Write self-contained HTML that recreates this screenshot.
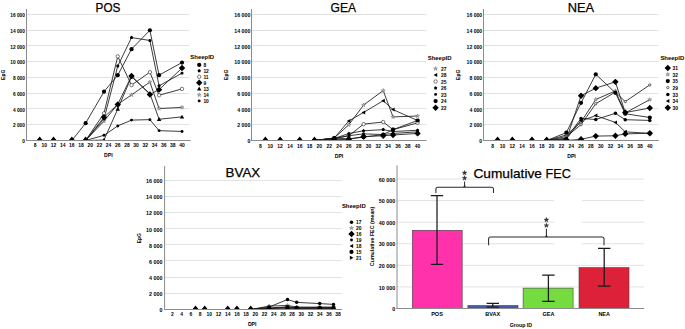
<!DOCTYPE html>
<html><head><meta charset="utf-8"><title>FEC charts</title>
<style>
html,body{margin:0;padding:0;background:#fff;}
body{width:685px;height:329px;overflow:hidden;}
svg{display:block;font-family:"Liberation Sans",sans-serif;}
</style></head><body>
<svg width="685" height="329" viewBox="0 0 685 329">
<rect width="685" height="329" fill="#fff"/>
<line x1="26.5" y1="124.5" x2="189.4" y2="124.5" stroke="#e2e2e2" stroke-width="1"/>
<line x1="26.5" y1="108.5" x2="189.4" y2="108.5" stroke="#e2e2e2" stroke-width="1"/>
<line x1="26.5" y1="93.5" x2="189.4" y2="93.5" stroke="#e2e2e2" stroke-width="1"/>
<line x1="26.5" y1="77.5" x2="189.4" y2="77.5" stroke="#e2e2e2" stroke-width="1"/>
<line x1="26.5" y1="61.5" x2="189.4" y2="61.5" stroke="#e2e2e2" stroke-width="1"/>
<line x1="26.5" y1="45.5" x2="189.4" y2="45.5" stroke="#e2e2e2" stroke-width="1"/>
<line x1="26.5" y1="30.5" x2="189.4" y2="30.5" stroke="#e2e2e2" stroke-width="1"/>
<line x1="26.5" y1="14.5" x2="189.4" y2="14.5" stroke="#e2e2e2" stroke-width="1"/>
<text x="25" y="143.1" font-size="6" text-anchor="end" font-weight="bold" textLength="2.69" lengthAdjust="spacingAndGlyphs">0</text>
<text x="25" y="127.35" font-size="6" text-anchor="end" font-weight="bold" textLength="12.11" lengthAdjust="spacingAndGlyphs">2 000</text>
<text x="25" y="111.6" font-size="6" text-anchor="end" font-weight="bold" textLength="12.11" lengthAdjust="spacingAndGlyphs">4 000</text>
<text x="25" y="95.85" font-size="6" text-anchor="end" font-weight="bold" textLength="12.11" lengthAdjust="spacingAndGlyphs">6 000</text>
<text x="25" y="80.1" font-size="6" text-anchor="end" font-weight="bold" textLength="12.11" lengthAdjust="spacingAndGlyphs">8 000</text>
<text x="25" y="64.35" font-size="6" text-anchor="end" font-weight="bold" textLength="14.8" lengthAdjust="spacingAndGlyphs">10 000</text>
<text x="25" y="48.6" font-size="6" text-anchor="end" font-weight="bold" textLength="14.8" lengthAdjust="spacingAndGlyphs">12 000</text>
<text x="25" y="32.85" font-size="6" text-anchor="end" font-weight="bold" textLength="14.8" lengthAdjust="spacingAndGlyphs">14 000</text>
<text x="25" y="17.1" font-size="6" text-anchor="end" font-weight="bold" textLength="14.8" lengthAdjust="spacingAndGlyphs">16 000</text>
<clipPath id="posc"><rect x="26.5" y="4" width="168.9" height="136.9"/></clipPath>
<g clip-path="url(#posc)">
<polyline points="39.73,140.5 53.5,140.5 71.86,140.5 85.63,140.5 103.99,121.13 117.76,104.28 131.53,94.9 149.89,82.07 159.07,108.53 182.02,107.42" fill="none" stroke="#1a1a1a" stroke-width="0.85"/>
<polyline points="39.73,140.5 53.5,140.5 71.86,140.5 85.63,140.5 103.99,135.3 117.76,125.93 131.53,120.1 149.89,119.63 159.07,130.66 182.02,131.44" fill="none" stroke="#1a1a1a" stroke-width="0.85"/>
<polyline points="39.73,140.5 53.5,140.5 71.86,140.5 85.63,140.5 103.99,140.03 117.76,109 131.53,76.71 149.89,93.64 159.07,119.24 182.02,116.88" fill="none" stroke="#1a1a1a" stroke-width="0.85"/>
<polyline points="39.73,140.5 53.5,140.5 71.86,140.5 85.63,140.5 103.99,113.33 117.76,56.39 131.53,85.14 149.89,72.14 159.07,95.22 182.02,88.92" fill="none" stroke="#1a1a1a" stroke-width="0.85"/>
<polyline points="39.73,140.5 53.5,140.5 71.86,140.5 85.63,140.5 103.99,118.92 117.76,66.08 131.53,37.57 149.89,40.49 159.07,85.77 182.02,73.17" fill="none" stroke="#1a1a1a" stroke-width="0.85"/>
<polyline points="39.73,140.5 53.5,140.5 71.86,140.5 85.63,123.17 103.99,91.67 117.76,75.14 131.53,49.15 149.89,30.25 159.07,75.14 182.02,62.54" fill="none" stroke="#1a1a1a" stroke-width="0.85"/>
<polyline points="39.73,140.5 53.5,140.5 71.86,140.5 85.63,140.5 103.99,117.27 117.76,104.43 131.53,75.93 149.89,94.43 159.07,89.63 182.02,68.05" fill="none" stroke="#1a1a1a" stroke-width="0.85"/>
<polygon points="39.73,138.4 39.23,139.81 37.73,139.85 38.92,140.76 38.5,142.2 39.73,141.35 40.96,142.2 40.54,140.76 41.73,139.85 40.23,139.81" fill="#bbbbbb" stroke="#555" stroke-width="0.4"/>
<polygon points="53.5,138.4 53,139.81 51.5,139.85 52.69,140.76 52.27,142.2 53.5,141.35 54.73,142.2 54.31,140.76 55.5,139.85 54,139.81" fill="#bbbbbb" stroke="#555" stroke-width="0.4"/>
<polygon points="71.86,138.4 71.36,139.81 69.86,139.85 71.05,140.76 70.63,142.2 71.86,141.35 73.09,142.2 72.67,140.76 73.86,139.85 72.36,139.81" fill="#bbbbbb" stroke="#555" stroke-width="0.4"/>
<polygon points="85.63,138.4 85.13,139.81 83.63,139.85 84.82,140.76 84.4,142.2 85.63,141.35 86.86,142.2 86.44,140.76 87.63,139.85 86.13,139.81" fill="#bbbbbb" stroke="#555" stroke-width="0.4"/>
<polygon points="103.99,119.03 103.49,120.44 101.99,120.48 103.18,121.39 102.76,122.83 103.99,121.98 105.22,122.83 104.8,121.39 105.99,120.48 104.49,120.44" fill="#bbbbbb" stroke="#555" stroke-width="0.4"/>
<polygon points="117.76,102.18 117.26,103.59 115.76,103.63 116.95,104.54 116.53,105.97 117.76,105.12 118.99,105.97 118.57,104.54 119.76,103.63 118.26,103.59" fill="#bbbbbb" stroke="#555" stroke-width="0.4"/>
<polygon points="131.53,92.8 131.03,94.22 129.53,94.25 130.72,95.17 130.3,96.6 131.53,95.75 132.76,96.6 132.34,95.17 133.53,94.25 132.03,94.22" fill="#bbbbbb" stroke="#555" stroke-width="0.4"/>
<polygon points="149.89,79.97 149.39,81.38 147.89,81.42 149.08,82.33 148.66,83.77 149.89,82.92 151.12,83.77 150.7,82.33 151.89,81.42 150.39,81.38" fill="#bbbbbb" stroke="#555" stroke-width="0.4"/>
<polygon points="159.07,106.43 158.57,107.84 157.07,107.88 158.26,108.79 157.84,110.23 159.07,109.38 160.3,110.23 159.88,108.79 161.07,107.88 159.57,107.84" fill="#bbbbbb" stroke="#555" stroke-width="0.4"/>
<polygon points="182.02,105.33 181.52,106.74 180.02,106.78 181.21,107.69 180.79,109.12 182.02,108.27 183.25,109.12 182.83,107.69 184.02,106.78 182.52,106.74" fill="#bbbbbb" stroke="#555" stroke-width="0.4"/>
<circle cx="39.73" cy="140.5" r="1.45" fill="#000"/>
<circle cx="53.5" cy="140.5" r="1.45" fill="#000"/>
<circle cx="71.86" cy="140.5" r="1.45" fill="#000"/>
<circle cx="85.63" cy="140.5" r="1.45" fill="#000"/>
<circle cx="103.99" cy="135.3" r="1.45" fill="#000"/>
<circle cx="117.76" cy="125.93" r="1.45" fill="#000"/>
<circle cx="131.53" cy="120.1" r="1.45" fill="#000"/>
<circle cx="149.89" cy="119.63" r="1.45" fill="#000"/>
<circle cx="159.07" cy="130.66" r="1.45" fill="#000"/>
<circle cx="182.02" cy="131.44" r="1.45" fill="#000"/>
<polygon points="39.73,138.3 41.93,142.15 37.53,142.15" fill="#000"/>
<polygon points="53.5,138.3 55.7,142.15 51.3,142.15" fill="#000"/>
<polygon points="71.86,138.3 74.06,142.15 69.66,142.15" fill="#000"/>
<polygon points="85.63,138.3 87.83,142.15 83.43,142.15" fill="#000"/>
<polygon points="103.99,137.83 106.19,141.68 101.79,141.68" fill="#000"/>
<polygon points="117.76,106.8 119.96,110.65 115.56,110.65" fill="#000"/>
<polygon points="131.53,74.51 133.73,78.36 129.33,78.36" fill="#000"/>
<polygon points="149.89,91.44 152.09,95.29 147.69,95.29" fill="#000"/>
<polygon points="159.07,117.04 161.27,120.89 156.87,120.89" fill="#000"/>
<polygon points="182.02,114.67 184.22,118.53 179.82,118.53" fill="#000"/>
<circle cx="39.73" cy="140.5" r="1.7" fill="#fff" stroke="#222" stroke-width="0.6"/>
<circle cx="53.5" cy="140.5" r="1.7" fill="#fff" stroke="#222" stroke-width="0.6"/>
<circle cx="71.86" cy="140.5" r="1.7" fill="#fff" stroke="#222" stroke-width="0.6"/>
<circle cx="85.63" cy="140.5" r="1.7" fill="#fff" stroke="#222" stroke-width="0.6"/>
<circle cx="103.99" cy="113.33" r="1.7" fill="#fff" stroke="#222" stroke-width="0.6"/>
<circle cx="117.76" cy="56.39" r="1.7" fill="#fff" stroke="#222" stroke-width="0.6"/>
<circle cx="131.53" cy="85.14" r="1.7" fill="#fff" stroke="#222" stroke-width="0.6"/>
<circle cx="149.89" cy="72.14" r="1.7" fill="#fff" stroke="#222" stroke-width="0.6"/>
<circle cx="159.07" cy="95.22" r="1.7" fill="#fff" stroke="#222" stroke-width="0.6"/>
<circle cx="182.02" cy="88.92" r="1.7" fill="#fff" stroke="#222" stroke-width="0.6"/>
<polygon points="39.73,138.75 41.39,139.96 40.76,141.92 38.7,141.92 38.07,139.96" fill="#000"/>
<polygon points="53.5,138.75 55.16,139.96 54.53,141.92 52.47,141.92 51.84,139.96" fill="#000"/>
<polygon points="71.86,138.75 73.52,139.96 72.89,141.92 70.83,141.92 70.2,139.96" fill="#000"/>
<polygon points="85.63,138.75 87.29,139.96 86.66,141.92 84.6,141.92 83.97,139.96" fill="#000"/>
<polygon points="103.99,117.17 105.65,118.38 105.02,120.34 102.96,120.34 102.33,118.38" fill="#000"/>
<polygon points="117.76,64.33 119.42,65.54 118.79,67.5 116.73,67.5 116.1,65.54" fill="#000"/>
<polygon points="131.53,35.82 133.19,37.03 132.56,38.99 130.5,38.99 129.87,37.03" fill="#000"/>
<polygon points="149.89,38.74 151.55,39.95 150.92,41.9 148.86,41.9 148.23,39.95" fill="#000"/>
<polygon points="159.07,84.02 160.73,85.23 160.1,87.18 158.04,87.18 157.41,85.23" fill="#000"/>
<polygon points="182.02,71.42 183.68,72.63 183.05,74.58 180.99,74.58 180.36,72.63" fill="#000"/>
<circle cx="39.73" cy="140.5" r="2.1" fill="#000"/>
<circle cx="53.5" cy="140.5" r="2.1" fill="#000"/>
<circle cx="71.86" cy="140.5" r="2.1" fill="#000"/>
<circle cx="85.63" cy="123.17" r="2.1" fill="#000"/>
<circle cx="103.99" cy="91.67" r="2.1" fill="#000"/>
<circle cx="117.76" cy="75.14" r="2.1" fill="#000"/>
<circle cx="131.53" cy="49.15" r="2.1" fill="#000"/>
<circle cx="149.89" cy="30.25" r="2.1" fill="#000"/>
<circle cx="159.07" cy="75.14" r="2.1" fill="#000"/>
<circle cx="182.02" cy="62.54" r="2.1" fill="#000"/>
<polygon points="39.73,137.3 42.93,140.5 39.73,143.7 36.53,140.5" fill="#000"/>
<polygon points="53.5,137.3 56.7,140.5 53.5,143.7 50.3,140.5" fill="#000"/>
<polygon points="71.86,137.3 75.06,140.5 71.86,143.7 68.66,140.5" fill="#000"/>
<polygon points="85.63,137.3 88.83,140.5 85.63,143.7 82.43,140.5" fill="#000"/>
<polygon points="103.99,114.07 107.19,117.27 103.99,120.47 100.79,117.27" fill="#000"/>
<polygon points="117.76,101.23 120.96,104.43 117.76,107.63 114.56,104.43" fill="#000"/>
<polygon points="131.53,72.73 134.73,75.93 131.53,79.13 128.33,75.93" fill="#000"/>
<polygon points="149.89,91.23 153.09,94.43 149.89,97.63 146.69,94.43" fill="#000"/>
<polygon points="159.07,86.43 162.27,89.63 159.07,92.83 155.87,89.63" fill="#000"/>
<polygon points="182.02,64.85 185.22,68.05 182.02,71.25 178.82,68.05" fill="#000"/>
<polygon points="36.43,140.9 39.73,136.6 43.03,140.9" fill="#000"/>
<polygon points="50.2,140.9 53.5,136.6 56.8,140.9" fill="#000"/>
<polygon points="68.56,140.9 71.86,136.6 75.16,140.9" fill="#000"/>
<polygon points="82.33,140.9 85.63,136.6 88.93,140.9" fill="#000"/>
</g>
<line x1="26.5" y1="9" x2="26.5" y2="141" stroke="#8c8c8c" stroke-width="1"/>
<line x1="26" y1="140.5" x2="190.8" y2="140.5" stroke="#8c8c8c" stroke-width="1"/>
<text x="35.14" y="147.2" font-size="5.8" text-anchor="middle" font-weight="bold" textLength="2.77" lengthAdjust="spacingAndGlyphs">8</text>
<text x="44.32" y="147.2" font-size="5.8" text-anchor="middle" font-weight="bold" textLength="5.55" lengthAdjust="spacingAndGlyphs">10</text>
<text x="53.5" y="147.2" font-size="5.8" text-anchor="middle" font-weight="bold" textLength="5.55" lengthAdjust="spacingAndGlyphs">12</text>
<text x="62.68" y="147.2" font-size="5.8" text-anchor="middle" font-weight="bold" textLength="5.55" lengthAdjust="spacingAndGlyphs">14</text>
<text x="71.86" y="147.2" font-size="5.8" text-anchor="middle" font-weight="bold" textLength="5.55" lengthAdjust="spacingAndGlyphs">16</text>
<text x="81.04" y="147.2" font-size="5.8" text-anchor="middle" font-weight="bold" textLength="5.55" lengthAdjust="spacingAndGlyphs">18</text>
<text x="90.22" y="147.2" font-size="5.8" text-anchor="middle" font-weight="bold" textLength="5.55" lengthAdjust="spacingAndGlyphs">20</text>
<text x="99.4" y="147.2" font-size="5.8" text-anchor="middle" font-weight="bold" textLength="5.55" lengthAdjust="spacingAndGlyphs">22</text>
<text x="108.58" y="147.2" font-size="5.8" text-anchor="middle" font-weight="bold" textLength="5.55" lengthAdjust="spacingAndGlyphs">24</text>
<text x="117.76" y="147.2" font-size="5.8" text-anchor="middle" font-weight="bold" textLength="5.55" lengthAdjust="spacingAndGlyphs">26</text>
<text x="126.94" y="147.2" font-size="5.8" text-anchor="middle" font-weight="bold" textLength="5.55" lengthAdjust="spacingAndGlyphs">28</text>
<text x="136.12" y="147.2" font-size="5.8" text-anchor="middle" font-weight="bold" textLength="5.55" lengthAdjust="spacingAndGlyphs">30</text>
<text x="145.3" y="147.2" font-size="5.8" text-anchor="middle" font-weight="bold" textLength="5.55" lengthAdjust="spacingAndGlyphs">32</text>
<text x="154.48" y="147.2" font-size="5.8" text-anchor="middle" font-weight="bold" textLength="5.55" lengthAdjust="spacingAndGlyphs">34</text>
<text x="163.66" y="147.2" font-size="5.8" text-anchor="middle" font-weight="bold" textLength="5.55" lengthAdjust="spacingAndGlyphs">36</text>
<text x="172.84" y="147.2" font-size="5.8" text-anchor="middle" font-weight="bold" textLength="5.55" lengthAdjust="spacingAndGlyphs">38</text>
<text x="182.02" y="147.2" font-size="5.8" text-anchor="middle" font-weight="bold" textLength="5.55" lengthAdjust="spacingAndGlyphs">40</text>
<text x="95.6" y="12.3" font-size="13.2" textLength="24.8" lengthAdjust="spacingAndGlyphs" fill="#000" stroke="#000" stroke-width="0.25">POS</text>
<text x="5.2" y="74.8" font-size="5.4" text-anchor="middle" font-weight="bold" textLength="10.2" lengthAdjust="spacingAndGlyphs" transform="rotate(-90 5.2 74.8)">EpG</text>
<text x="108.4" y="156.6" font-size="5.4" text-anchor="middle" font-weight="bold" textLength="8.6" lengthAdjust="spacingAndGlyphs">DPI</text>
<text x="190.3" y="59.3" font-size="6.1" font-weight="bold" textLength="23.8" lengthAdjust="spacingAndGlyphs">SheepID</text>
<circle cx="199.2" cy="64.9" r="2.1" fill="#000"/>
<text x="203.4" y="67" font-size="6" font-weight="bold" textLength="2.74" lengthAdjust="spacingAndGlyphs">8</text>
<polygon points="199.2,69.05 200.86,70.26 200.23,72.22 198.17,72.22 197.54,70.26" fill="#000"/>
<text x="203.4" y="72.9" font-size="6" font-weight="bold" textLength="5.47" lengthAdjust="spacingAndGlyphs">12</text>
<circle cx="199.2" cy="76.8" r="1.7" fill="#fff" stroke="#222" stroke-width="0.6"/>
<text x="203.4" y="78.9" font-size="6" font-weight="bold" textLength="5.2" lengthAdjust="spacingAndGlyphs">11</text>
<polygon points="199.2,79.5 202.4,82.7 199.2,85.9 196,82.7" fill="#000"/>
<text x="203.4" y="84.8" font-size="6" font-weight="bold" textLength="2.74" lengthAdjust="spacingAndGlyphs">9</text>
<polygon points="199.2,86.6 201.4,90.45 197,90.45" fill="#000"/>
<text x="203.4" y="90.9" font-size="6" font-weight="bold" textLength="5.47" lengthAdjust="spacingAndGlyphs">13</text>
<polygon points="199.2,92.8 198.7,94.21 197.2,94.25 198.39,95.16 197.97,96.6 199.2,95.75 200.43,96.6 200.01,95.16 201.2,94.25 199.7,94.21" fill="#bbbbbb" stroke="#555" stroke-width="0.4"/>
<text x="203.4" y="97" font-size="6" font-weight="bold" textLength="5.47" lengthAdjust="spacingAndGlyphs">14</text>
<circle cx="199.2" cy="100.9" r="1.45" fill="#000"/>
<text x="203.4" y="103" font-size="6" font-weight="bold" textLength="5.47" lengthAdjust="spacingAndGlyphs">10</text>
<line x1="251.5" y1="124.5" x2="426.3" y2="124.5" stroke="#e2e2e2" stroke-width="1"/>
<line x1="251.5" y1="108.5" x2="426.3" y2="108.5" stroke="#e2e2e2" stroke-width="1"/>
<line x1="251.5" y1="93.5" x2="426.3" y2="93.5" stroke="#e2e2e2" stroke-width="1"/>
<line x1="251.5" y1="77.5" x2="426.3" y2="77.5" stroke="#e2e2e2" stroke-width="1"/>
<line x1="251.5" y1="61.5" x2="426.3" y2="61.5" stroke="#e2e2e2" stroke-width="1"/>
<line x1="251.5" y1="45.5" x2="426.3" y2="45.5" stroke="#e2e2e2" stroke-width="1"/>
<line x1="251.5" y1="30.5" x2="426.3" y2="30.5" stroke="#e2e2e2" stroke-width="1"/>
<line x1="251.5" y1="14.5" x2="426.3" y2="14.5" stroke="#e2e2e2" stroke-width="1"/>
<text x="250.3" y="143.1" font-size="6" text-anchor="end" font-weight="bold" textLength="2.91" lengthAdjust="spacingAndGlyphs">0</text>
<text x="250.3" y="127.35" font-size="6" text-anchor="end" font-weight="bold" textLength="13.09" lengthAdjust="spacingAndGlyphs">2 000</text>
<text x="250.3" y="111.6" font-size="6" text-anchor="end" font-weight="bold" textLength="13.09" lengthAdjust="spacingAndGlyphs">4 000</text>
<text x="250.3" y="95.85" font-size="6" text-anchor="end" font-weight="bold" textLength="13.09" lengthAdjust="spacingAndGlyphs">6 000</text>
<text x="250.3" y="80.1" font-size="6" text-anchor="end" font-weight="bold" textLength="13.09" lengthAdjust="spacingAndGlyphs">8 000</text>
<text x="250.3" y="64.35" font-size="6" text-anchor="end" font-weight="bold" textLength="16" lengthAdjust="spacingAndGlyphs">10 000</text>
<text x="250.3" y="48.6" font-size="6" text-anchor="end" font-weight="bold" textLength="16" lengthAdjust="spacingAndGlyphs">12 000</text>
<text x="250.3" y="32.85" font-size="6" text-anchor="end" font-weight="bold" textLength="16" lengthAdjust="spacingAndGlyphs">14 000</text>
<text x="250.3" y="17.1" font-size="6" text-anchor="end" font-weight="bold" textLength="16" lengthAdjust="spacingAndGlyphs">16 000</text>
<clipPath id="geac"><rect x="251.5" y="4" width="180.8" height="136.9"/></clipPath>
<g clip-path="url(#geac)">
<polyline points="265.37,140.5 280.1,140.5 299.74,140.5 314.47,140.5 334.11,138.14 348.84,124.75 363.57,105.06 383.21,90.57 393.03,116.91 417.58,116.02" fill="none" stroke="#1a1a1a" stroke-width="0.85"/>
<polyline points="265.37,140.5 280.1,140.5 299.74,140.5 314.47,140.5 334.11,138.14 348.84,120.91 363.57,112.47 383.21,100.72 393.03,109.62 417.58,120.51" fill="none" stroke="#1a1a1a" stroke-width="0.85"/>
<polyline points="265.37,140.5 280.1,140.5 299.74,140.5 314.47,140.5 334.11,138.14 348.84,135.78 363.57,124.12 383.21,122.02 393.03,129.61 417.58,122.92" fill="none" stroke="#1a1a1a" stroke-width="0.85"/>
<polyline points="265.37,140.5 280.1,140.5 299.74,140.5 314.47,140.5 334.11,138.53 348.84,133.51 363.57,130.81 383.21,129.61 393.03,131.51 417.58,130.26" fill="none" stroke="#1a1a1a" stroke-width="0.85"/>
<polyline points="265.37,140.5 280.1,140.5 299.74,140.5 314.47,140.5 334.11,138.93 348.84,135.7 363.57,133.9 383.21,134.51 393.03,133.41 417.58,131.84" fill="none" stroke="#1a1a1a" stroke-width="0.85"/>
<polyline points="265.37,140.5 280.1,140.5 299.74,140.5 314.47,140.5 334.11,139.71 348.84,139.32 363.57,136.56 383.21,135.78 393.03,134.99 417.58,133.41" fill="none" stroke="#1a1a1a" stroke-width="0.85"/>
<polyline points="265.37,140.5 280.1,140.5 299.74,140.5 314.47,140.5 334.11,138.1 348.84,138.8 363.57,137.2 383.21,134.51 393.03,129.61 417.58,120.51" fill="none" stroke="#1a1a1a" stroke-width="0.85"/>
<polygon points="265.37,138.4 264.87,139.81 263.37,139.85 264.56,140.76 264.14,142.2 265.37,141.35 266.6,142.2 266.18,140.76 267.37,139.85 265.87,139.81" fill="#bbbbbb" stroke="#555" stroke-width="0.4"/>
<polygon points="280.1,138.4 279.6,139.81 278.1,139.85 279.29,140.76 278.87,142.2 280.1,141.35 281.33,142.2 280.91,140.76 282.1,139.85 280.6,139.81" fill="#bbbbbb" stroke="#555" stroke-width="0.4"/>
<polygon points="299.74,138.4 299.24,139.81 297.74,139.85 298.93,140.76 298.51,142.2 299.74,141.35 300.97,142.2 300.55,140.76 301.74,139.85 300.24,139.81" fill="#bbbbbb" stroke="#555" stroke-width="0.4"/>
<polygon points="314.47,138.4 313.97,139.81 312.47,139.85 313.66,140.76 313.24,142.2 314.47,141.35 315.7,142.2 315.28,140.76 316.47,139.85 314.97,139.81" fill="#bbbbbb" stroke="#555" stroke-width="0.4"/>
<polygon points="334.11,136.04 333.61,137.45 332.11,137.49 333.3,138.4 332.88,139.84 334.11,138.99 335.34,139.84 334.92,138.4 336.11,137.49 334.61,137.45" fill="#bbbbbb" stroke="#555" stroke-width="0.4"/>
<polygon points="348.84,122.65 348.34,124.06 346.84,124.1 348.03,125.01 347.61,126.45 348.84,125.6 350.07,126.45 349.65,125.01 350.84,124.1 349.34,124.06" fill="#bbbbbb" stroke="#555" stroke-width="0.4"/>
<polygon points="363.57,102.96 363.07,104.37 361.57,104.41 362.76,105.33 362.34,106.76 363.57,105.91 364.8,106.76 364.38,105.33 365.57,104.41 364.07,104.37" fill="#bbbbbb" stroke="#555" stroke-width="0.4"/>
<polygon points="383.21,88.47 382.71,89.88 381.21,89.92 382.4,90.84 381.98,92.27 383.21,91.42 384.44,92.27 384.02,90.84 385.21,89.92 383.71,89.88" fill="#bbbbbb" stroke="#555" stroke-width="0.4"/>
<polygon points="393.03,114.81 392.53,116.23 391.03,116.27 392.22,117.18 391.8,118.61 393.03,117.76 394.26,118.61 393.84,117.18 395.03,116.27 393.53,116.23" fill="#bbbbbb" stroke="#555" stroke-width="0.4"/>
<polygon points="417.58,113.92 417.08,115.33 415.58,115.37 416.77,116.28 416.35,117.72 417.58,116.87 418.81,117.72 418.39,116.28 419.58,115.37 418.08,115.33" fill="#bbbbbb" stroke="#555" stroke-width="0.4"/>
<polygon points="263.37,140.5 266.97,138.5 266.97,142.5" fill="#000"/>
<polygon points="278.1,140.5 281.7,138.5 281.7,142.5" fill="#000"/>
<polygon points="297.74,140.5 301.34,138.5 301.34,142.5" fill="#000"/>
<polygon points="312.47,140.5 316.07,138.5 316.07,142.5" fill="#000"/>
<polygon points="332.11,138.14 335.71,136.14 335.71,140.14" fill="#000"/>
<polygon points="346.84,120.91 350.44,118.91 350.44,122.91" fill="#000"/>
<polygon points="361.57,112.47 365.17,110.47 365.17,114.47" fill="#000"/>
<polygon points="381.21,100.72 384.81,98.72 384.81,102.72" fill="#000"/>
<polygon points="391.03,109.62 394.63,107.62 394.63,111.62" fill="#000"/>
<polygon points="415.58,120.51 419.18,118.51 419.18,122.51" fill="#000"/>
<circle cx="265.37" cy="140.5" r="1.7" fill="#fff" stroke="#222" stroke-width="0.6"/>
<circle cx="280.1" cy="140.5" r="1.7" fill="#fff" stroke="#222" stroke-width="0.6"/>
<circle cx="299.74" cy="140.5" r="1.7" fill="#fff" stroke="#222" stroke-width="0.6"/>
<circle cx="314.47" cy="140.5" r="1.7" fill="#fff" stroke="#222" stroke-width="0.6"/>
<circle cx="334.11" cy="138.14" r="1.7" fill="#fff" stroke="#222" stroke-width="0.6"/>
<circle cx="348.84" cy="135.78" r="1.7" fill="#fff" stroke="#222" stroke-width="0.6"/>
<circle cx="363.57" cy="124.12" r="1.7" fill="#fff" stroke="#222" stroke-width="0.6"/>
<circle cx="383.21" cy="122.02" r="1.7" fill="#fff" stroke="#222" stroke-width="0.6"/>
<circle cx="393.03" cy="129.61" r="1.7" fill="#fff" stroke="#222" stroke-width="0.6"/>
<circle cx="417.58" cy="122.92" r="1.7" fill="#fff" stroke="#222" stroke-width="0.6"/>
<polygon points="265.37,138.75 267.03,139.96 266.4,141.92 264.34,141.92 263.71,139.96" fill="#000"/>
<polygon points="280.1,138.75 281.76,139.96 281.13,141.92 279.07,141.92 278.44,139.96" fill="#000"/>
<polygon points="299.74,138.75 301.4,139.96 300.77,141.92 298.71,141.92 298.08,139.96" fill="#000"/>
<polygon points="314.47,138.75 316.13,139.96 315.5,141.92 313.44,141.92 312.81,139.96" fill="#000"/>
<polygon points="334.11,136.78 335.77,137.99 335.14,139.95 333.08,139.95 332.45,137.99" fill="#000"/>
<polygon points="348.84,131.76 350.5,132.97 349.87,134.92 347.81,134.92 347.18,132.97" fill="#000"/>
<polygon points="363.57,129.06 365.23,130.27 364.6,132.22 362.54,132.22 361.91,130.27" fill="#000"/>
<polygon points="383.21,127.86 384.87,129.07 384.24,131.02 382.18,131.02 381.55,129.07" fill="#000"/>
<polygon points="393.03,129.76 394.69,130.97 394.06,132.92 392,132.92 391.37,130.97" fill="#000"/>
<polygon points="417.58,128.51 419.24,129.72 418.61,131.68 416.55,131.68 415.92,129.72" fill="#000"/>
<circle cx="265.37" cy="140.5" r="1.45" fill="#000"/>
<circle cx="280.1" cy="140.5" r="1.45" fill="#000"/>
<circle cx="299.74" cy="140.5" r="1.45" fill="#000"/>
<circle cx="314.47" cy="140.5" r="1.45" fill="#000"/>
<circle cx="334.11" cy="138.93" r="1.45" fill="#000"/>
<circle cx="348.84" cy="135.7" r="1.45" fill="#000"/>
<circle cx="363.57" cy="133.9" r="1.45" fill="#000"/>
<circle cx="383.21" cy="134.51" r="1.45" fill="#000"/>
<circle cx="393.03" cy="133.41" r="1.45" fill="#000"/>
<circle cx="417.58" cy="131.84" r="1.45" fill="#000"/>
<polygon points="265.37,137.3 268.57,140.5 265.37,143.7 262.17,140.5" fill="#000"/>
<polygon points="280.1,137.3 283.3,140.5 280.1,143.7 276.9,140.5" fill="#000"/>
<polygon points="299.74,137.3 302.94,140.5 299.74,143.7 296.54,140.5" fill="#000"/>
<polygon points="314.47,137.3 317.67,140.5 314.47,143.7 311.27,140.5" fill="#000"/>
<polygon points="334.11,136.51 337.31,139.71 334.11,142.91 330.91,139.71" fill="#000"/>
<polygon points="348.84,136.12 352.04,139.32 348.84,142.52 345.64,139.32" fill="#000"/>
<polygon points="363.57,133.36 366.77,136.56 363.57,139.76 360.37,136.56" fill="#000"/>
<polygon points="383.21,132.58 386.41,135.78 383.21,138.97 380.01,135.78" fill="#000"/>
<polygon points="393.03,131.79 396.23,134.99 393.03,138.19 389.83,134.99" fill="#000"/>
<polygon points="417.58,130.21 420.78,133.41 417.58,136.61 414.38,133.41" fill="#000"/>
<circle cx="265.37" cy="140.5" r="2.1" fill="#000"/>
<circle cx="280.1" cy="140.5" r="2.1" fill="#000"/>
<circle cx="299.74" cy="140.5" r="2.1" fill="#000"/>
<circle cx="314.47" cy="140.5" r="2.1" fill="#000"/>
<circle cx="334.11" cy="138.1" r="2.1" fill="#000"/>
<circle cx="348.84" cy="138.8" r="2.1" fill="#000"/>
<circle cx="363.57" cy="137.2" r="2.1" fill="#000"/>
<circle cx="383.21" cy="134.51" r="2.1" fill="#000"/>
<circle cx="393.03" cy="129.61" r="2.1" fill="#000"/>
<circle cx="417.58" cy="120.51" r="2.1" fill="#000"/>
<polygon points="262.07,140.9 265.37,136.6 268.67,140.9" fill="#000"/>
<polygon points="276.8,140.9 280.1,136.6 283.4,140.9" fill="#000"/>
<polygon points="296.44,140.9 299.74,136.6 303.04,140.9" fill="#000"/>
<polygon points="311.17,140.9 314.47,136.6 317.77,140.9" fill="#000"/>
</g>
<line x1="251.5" y1="9" x2="251.5" y2="141" stroke="#8c8c8c" stroke-width="1"/>
<line x1="251" y1="140.5" x2="426.5" y2="140.5" stroke="#8c8c8c" stroke-width="1"/>
<text x="260.46" y="147.6" font-size="5.8" text-anchor="middle" font-weight="bold" textLength="2.77" lengthAdjust="spacingAndGlyphs">8</text>
<text x="270.28" y="147.6" font-size="5.8" text-anchor="middle" font-weight="bold" textLength="5.55" lengthAdjust="spacingAndGlyphs">10</text>
<text x="280.1" y="147.6" font-size="5.8" text-anchor="middle" font-weight="bold" textLength="5.55" lengthAdjust="spacingAndGlyphs">12</text>
<text x="289.92" y="147.6" font-size="5.8" text-anchor="middle" font-weight="bold" textLength="5.55" lengthAdjust="spacingAndGlyphs">14</text>
<text x="299.74" y="147.6" font-size="5.8" text-anchor="middle" font-weight="bold" textLength="5.55" lengthAdjust="spacingAndGlyphs">16</text>
<text x="309.56" y="147.6" font-size="5.8" text-anchor="middle" font-weight="bold" textLength="5.55" lengthAdjust="spacingAndGlyphs">18</text>
<text x="319.38" y="147.6" font-size="5.8" text-anchor="middle" font-weight="bold" textLength="5.55" lengthAdjust="spacingAndGlyphs">20</text>
<text x="329.2" y="147.6" font-size="5.8" text-anchor="middle" font-weight="bold" textLength="5.55" lengthAdjust="spacingAndGlyphs">22</text>
<text x="339.02" y="147.6" font-size="5.8" text-anchor="middle" font-weight="bold" textLength="5.55" lengthAdjust="spacingAndGlyphs">24</text>
<text x="348.84" y="147.6" font-size="5.8" text-anchor="middle" font-weight="bold" textLength="5.55" lengthAdjust="spacingAndGlyphs">26</text>
<text x="358.66" y="147.6" font-size="5.8" text-anchor="middle" font-weight="bold" textLength="5.55" lengthAdjust="spacingAndGlyphs">28</text>
<text x="368.48" y="147.6" font-size="5.8" text-anchor="middle" font-weight="bold" textLength="5.55" lengthAdjust="spacingAndGlyphs">30</text>
<text x="378.3" y="147.6" font-size="5.8" text-anchor="middle" font-weight="bold" textLength="5.55" lengthAdjust="spacingAndGlyphs">32</text>
<text x="388.12" y="147.6" font-size="5.8" text-anchor="middle" font-weight="bold" textLength="5.55" lengthAdjust="spacingAndGlyphs">34</text>
<text x="397.94" y="147.6" font-size="5.8" text-anchor="middle" font-weight="bold" textLength="5.55" lengthAdjust="spacingAndGlyphs">36</text>
<text x="407.76" y="147.6" font-size="5.8" text-anchor="middle" font-weight="bold" textLength="5.55" lengthAdjust="spacingAndGlyphs">38</text>
<text x="417.58" y="147.6" font-size="5.8" text-anchor="middle" font-weight="bold" textLength="5.55" lengthAdjust="spacingAndGlyphs">40</text>
<text x="330.6" y="12.3" font-size="13.2" textLength="25.5" lengthAdjust="spacingAndGlyphs" fill="#000" stroke="#000" stroke-width="0.25">GEA</text>
<text x="228" y="74.8" font-size="5.4" text-anchor="middle" font-weight="bold" textLength="10.2" lengthAdjust="spacingAndGlyphs" transform="rotate(-90 228 74.8)">EpG</text>
<text x="339" y="157.6" font-size="5.4" text-anchor="middle" font-weight="bold" textLength="8.6" lengthAdjust="spacingAndGlyphs">DPI</text>
<text x="427.7" y="59.9" font-size="6.1" font-weight="bold" textLength="23.8" lengthAdjust="spacingAndGlyphs">SheepID</text>
<polygon points="435.6,66.6 435.1,68.01 433.6,68.05 434.79,68.96 434.37,70.4 435.6,69.55 436.83,70.4 436.41,68.96 437.6,68.05 436.1,68.01" fill="#bbbbbb" stroke="#555" stroke-width="0.4"/>
<text x="441" y="70.8" font-size="6" font-weight="bold" textLength="5.47" lengthAdjust="spacingAndGlyphs">27</text>
<polygon points="433.6,75.1 437.2,73.1 437.2,77.1" fill="#000"/>
<text x="441" y="77.2" font-size="6" font-weight="bold" textLength="5.47" lengthAdjust="spacingAndGlyphs">28</text>
<circle cx="435.6" cy="81.5" r="1.7" fill="#fff" stroke="#222" stroke-width="0.6"/>
<text x="441" y="83.6" font-size="6" font-weight="bold" textLength="5.47" lengthAdjust="spacingAndGlyphs">25</text>
<polygon points="435.6,86.25 437.26,87.46 436.63,89.42 434.57,89.42 433.94,87.46" fill="#000"/>
<text x="441" y="90.1" font-size="6" font-weight="bold" textLength="5.47" lengthAdjust="spacingAndGlyphs">26</text>
<circle cx="435.6" cy="94.4" r="1.45" fill="#000"/>
<text x="441" y="96.5" font-size="6" font-weight="bold" textLength="5.47" lengthAdjust="spacingAndGlyphs">23</text>
<circle cx="435.6" cy="101.1" r="2.1" fill="#000"/>
<text x="441" y="103.2" font-size="6" font-weight="bold" textLength="5.47" lengthAdjust="spacingAndGlyphs">24</text>
<polygon points="435.6,104.5 438.8,107.7 435.6,110.9 432.4,107.7" fill="#000"/>
<text x="441" y="109.8" font-size="6" font-weight="bold" textLength="5.47" lengthAdjust="spacingAndGlyphs">22</text>
<line x1="483.5" y1="124.5" x2="658.6" y2="124.5" stroke="#e2e2e2" stroke-width="1"/>
<line x1="483.5" y1="108.5" x2="658.6" y2="108.5" stroke="#e2e2e2" stroke-width="1"/>
<line x1="483.5" y1="93.5" x2="658.6" y2="93.5" stroke="#e2e2e2" stroke-width="1"/>
<line x1="483.5" y1="77.5" x2="658.6" y2="77.5" stroke="#e2e2e2" stroke-width="1"/>
<line x1="483.5" y1="61.5" x2="658.6" y2="61.5" stroke="#e2e2e2" stroke-width="1"/>
<line x1="483.5" y1="45.5" x2="658.6" y2="45.5" stroke="#e2e2e2" stroke-width="1"/>
<line x1="483.5" y1="30.5" x2="658.6" y2="30.5" stroke="#e2e2e2" stroke-width="1"/>
<line x1="483.5" y1="14.5" x2="658.6" y2="14.5" stroke="#e2e2e2" stroke-width="1"/>
<text x="482.2" y="143.1" font-size="6" text-anchor="end" font-weight="bold" textLength="2.84" lengthAdjust="spacingAndGlyphs">0</text>
<text x="482.2" y="127.35" font-size="6" text-anchor="end" font-weight="bold" textLength="12.76" lengthAdjust="spacingAndGlyphs">2 000</text>
<text x="482.2" y="111.6" font-size="6" text-anchor="end" font-weight="bold" textLength="12.76" lengthAdjust="spacingAndGlyphs">4 000</text>
<text x="482.2" y="95.85" font-size="6" text-anchor="end" font-weight="bold" textLength="12.76" lengthAdjust="spacingAndGlyphs">6 000</text>
<text x="482.2" y="80.1" font-size="6" text-anchor="end" font-weight="bold" textLength="12.76" lengthAdjust="spacingAndGlyphs">8 000</text>
<text x="482.2" y="64.35" font-size="6" text-anchor="end" font-weight="bold" textLength="15.6" lengthAdjust="spacingAndGlyphs">10 000</text>
<text x="482.2" y="48.6" font-size="6" text-anchor="end" font-weight="bold" textLength="15.6" lengthAdjust="spacingAndGlyphs">12 000</text>
<text x="482.2" y="32.85" font-size="6" text-anchor="end" font-weight="bold" textLength="15.6" lengthAdjust="spacingAndGlyphs">14 000</text>
<text x="482.2" y="17.1" font-size="6" text-anchor="end" font-weight="bold" textLength="15.6" lengthAdjust="spacingAndGlyphs">16 000</text>
<clipPath id="neac"><rect x="483.5" y="4" width="181.1" height="136.9"/></clipPath>
<g clip-path="url(#neac)">
<polyline points="497.57,140.5 512.3,140.5 531.94,140.5 546.67,140.5 566.31,134.99 581.04,121.92 595.77,99.53 615.41,90.89 625.23,112.94 649.78,99.63" fill="none" stroke="#1a1a1a" stroke-width="0.85"/>
<polyline points="497.57,140.5 512.3,140.5 531.94,140.5 546.67,140.5 566.31,136.56 581.04,124.71 595.77,103.72 615.41,92.07 625.23,101.62 649.78,84.93" fill="none" stroke="#1a1a1a" stroke-width="0.85"/>
<polyline points="497.57,140.5 512.3,140.5 531.94,140.5 546.67,140.5 566.31,138.14 581.04,118.41 595.77,119.51 615.41,113.32 625.23,119.71 649.78,120.41" fill="none" stroke="#1a1a1a" stroke-width="0.85"/>
<polyline points="497.57,140.5 512.3,140.5 531.94,140.5 546.67,140.5 566.31,138.93 581.04,120.81 595.77,115.61 615.41,122.41 625.23,131.84 649.78,133.41" fill="none" stroke="#1a1a1a" stroke-width="0.85"/>
<polyline points="497.57,140.5 512.3,140.5 531.94,140.5 546.67,140.5 566.31,140.5 581.04,139.3 595.77,136.1 615.41,135.78 625.23,133.9 649.78,133.21" fill="none" stroke="#1a1a1a" stroke-width="0.85"/>
<polyline points="497.57,140.5 512.3,140.5 531.94,140.5 546.67,140.5 566.31,132.7 581.04,102.86 595.77,74.35 615.41,92.78 625.23,113.72 649.78,117.51" fill="none" stroke="#1a1a1a" stroke-width="0.85"/>
<polyline points="497.57,140.5 512.3,140.5 531.94,140.5 546.67,140.5 566.31,139.71 581.04,95.73 595.77,88.13 615.41,81.83 625.23,112.54 649.78,108.02" fill="none" stroke="#1a1a1a" stroke-width="0.85"/>
<polygon points="497.57,138.4 497.07,139.81 495.57,139.85 496.76,140.76 496.34,142.2 497.57,141.35 498.8,142.2 498.38,140.76 499.57,139.85 498.07,139.81" fill="#bbbbbb" stroke="#555" stroke-width="0.4"/>
<polygon points="512.3,138.4 511.8,139.81 510.3,139.85 511.49,140.76 511.07,142.2 512.3,141.35 513.53,142.2 513.11,140.76 514.3,139.85 512.8,139.81" fill="#bbbbbb" stroke="#555" stroke-width="0.4"/>
<polygon points="531.94,138.4 531.44,139.81 529.94,139.85 531.13,140.76 530.71,142.2 531.94,141.35 533.17,142.2 532.75,140.76 533.94,139.85 532.44,139.81" fill="#bbbbbb" stroke="#555" stroke-width="0.4"/>
<polygon points="546.67,138.4 546.17,139.81 544.67,139.85 545.86,140.76 545.44,142.2 546.67,141.35 547.9,142.2 547.48,140.76 548.67,139.85 547.17,139.81" fill="#bbbbbb" stroke="#555" stroke-width="0.4"/>
<polygon points="566.31,132.89 565.81,134.3 564.31,134.34 565.5,135.25 565.08,136.69 566.31,135.84 567.54,136.69 567.12,135.25 568.31,134.34 566.81,134.3" fill="#bbbbbb" stroke="#555" stroke-width="0.4"/>
<polygon points="581.04,119.82 580.54,121.23 579.04,121.27 580.23,122.18 579.81,123.61 581.04,122.77 582.27,123.61 581.85,122.18 583.04,121.27 581.54,121.23" fill="#bbbbbb" stroke="#555" stroke-width="0.4"/>
<polygon points="595.77,97.43 595.27,98.84 593.77,98.88 594.96,99.79 594.54,101.23 595.77,100.38 597,101.23 596.58,99.79 597.77,98.88 596.27,98.84" fill="#bbbbbb" stroke="#555" stroke-width="0.4"/>
<polygon points="615.41,88.79 614.91,90.2 613.41,90.24 614.6,91.15 614.18,92.59 615.41,91.74 616.64,92.59 616.22,91.15 617.41,90.24 615.91,90.2" fill="#bbbbbb" stroke="#555" stroke-width="0.4"/>
<polygon points="625.23,110.84 624.73,112.25 623.23,112.29 624.42,113.2 624,114.64 625.23,113.79 626.46,114.64 626.04,113.2 627.23,112.29 625.73,112.25" fill="#bbbbbb" stroke="#555" stroke-width="0.4"/>
<polygon points="649.78,97.53 649.28,98.94 647.78,98.98 648.97,99.89 648.55,101.33 649.78,100.48 651.01,101.33 650.59,99.89 651.78,98.98 650.28,98.94" fill="#bbbbbb" stroke="#555" stroke-width="0.4"/>
<circle cx="497.57" cy="140.5" r="1.15" fill="#fff" stroke="#222" stroke-width="0.7"/>
<circle cx="512.3" cy="140.5" r="1.15" fill="#fff" stroke="#222" stroke-width="0.7"/>
<circle cx="531.94" cy="140.5" r="1.15" fill="#fff" stroke="#222" stroke-width="0.7"/>
<circle cx="546.67" cy="140.5" r="1.15" fill="#fff" stroke="#222" stroke-width="0.7"/>
<circle cx="566.31" cy="136.56" r="1.15" fill="#fff" stroke="#222" stroke-width="0.7"/>
<circle cx="581.04" cy="124.71" r="1.15" fill="#fff" stroke="#222" stroke-width="0.7"/>
<circle cx="595.77" cy="103.72" r="1.15" fill="#fff" stroke="#222" stroke-width="0.7"/>
<circle cx="615.41" cy="92.07" r="1.15" fill="#fff" stroke="#222" stroke-width="0.7"/>
<circle cx="625.23" cy="101.62" r="1.15" fill="#fff" stroke="#222" stroke-width="0.7"/>
<circle cx="649.78" cy="84.93" r="1.15" fill="#fff" stroke="#222" stroke-width="0.7"/>
<circle cx="497.57" cy="140.5" r="1.75" fill="#000"/>
<circle cx="512.3" cy="140.5" r="1.75" fill="#000"/>
<circle cx="531.94" cy="140.5" r="1.75" fill="#000"/>
<circle cx="546.67" cy="140.5" r="1.75" fill="#000"/>
<circle cx="566.31" cy="138.14" r="1.75" fill="#000"/>
<circle cx="581.04" cy="118.41" r="1.75" fill="#000"/>
<circle cx="595.77" cy="119.51" r="1.75" fill="#000"/>
<circle cx="615.41" cy="113.32" r="1.75" fill="#000"/>
<circle cx="625.23" cy="119.71" r="1.75" fill="#000"/>
<circle cx="649.78" cy="120.41" r="1.75" fill="#000"/>
<polygon points="495.57,140.5 499.17,138.5 499.17,142.5" fill="#000"/>
<polygon points="510.3,140.5 513.9,138.5 513.9,142.5" fill="#000"/>
<polygon points="529.94,140.5 533.54,138.5 533.54,142.5" fill="#000"/>
<polygon points="544.67,140.5 548.27,138.5 548.27,142.5" fill="#000"/>
<polygon points="564.31,138.93 567.91,136.93 567.91,140.93" fill="#000"/>
<polygon points="579.04,120.81 582.64,118.81 582.64,122.81" fill="#000"/>
<polygon points="593.77,115.61 597.37,113.61 597.37,117.61" fill="#000"/>
<polygon points="613.41,122.41 617.01,120.41 617.01,124.41" fill="#000"/>
<polygon points="623.23,131.84 626.83,129.84 626.83,133.84" fill="#000"/>
<polygon points="647.78,133.41 651.38,131.41 651.38,135.41" fill="#000"/>
<polygon points="497.57,137.3 500.77,140.5 497.57,143.7 494.37,140.5" fill="#000"/>
<polygon points="512.3,137.3 515.5,140.5 512.3,143.7 509.1,140.5" fill="#000"/>
<polygon points="531.94,137.3 535.14,140.5 531.94,143.7 528.74,140.5" fill="#000"/>
<polygon points="546.67,137.3 549.87,140.5 546.67,143.7 543.47,140.5" fill="#000"/>
<polygon points="566.31,137.3 569.51,140.5 566.31,143.7 563.11,140.5" fill="#000"/>
<polygon points="581.04,136.1 584.24,139.3 581.04,142.5 577.84,139.3" fill="#000"/>
<polygon points="595.77,132.9 598.97,136.1 595.77,139.3 592.57,136.1" fill="#000"/>
<polygon points="615.41,132.58 618.61,135.78 615.41,138.97 612.21,135.78" fill="#000"/>
<polygon points="625.23,130.7 628.43,133.9 625.23,137.1 622.03,133.9" fill="#000"/>
<polygon points="649.78,130.01 652.98,133.21 649.78,136.41 646.58,133.21" fill="#000"/>
<circle cx="497.57" cy="140.5" r="2.1" fill="#000"/>
<circle cx="512.3" cy="140.5" r="2.1" fill="#000"/>
<circle cx="531.94" cy="140.5" r="2.1" fill="#000"/>
<circle cx="546.67" cy="140.5" r="2.1" fill="#000"/>
<circle cx="566.31" cy="132.7" r="2.1" fill="#000"/>
<circle cx="581.04" cy="102.86" r="2.1" fill="#000"/>
<circle cx="595.77" cy="74.35" r="2.1" fill="#000"/>
<circle cx="615.41" cy="92.78" r="2.1" fill="#000"/>
<circle cx="625.23" cy="113.72" r="2.1" fill="#000"/>
<circle cx="649.78" cy="117.51" r="2.1" fill="#000"/>
<polygon points="497.57,137.3 500.77,140.5 497.57,143.7 494.37,140.5" fill="#000"/>
<polygon points="512.3,137.3 515.5,140.5 512.3,143.7 509.1,140.5" fill="#000"/>
<polygon points="531.94,137.3 535.14,140.5 531.94,143.7 528.74,140.5" fill="#000"/>
<polygon points="546.67,137.3 549.87,140.5 546.67,143.7 543.47,140.5" fill="#000"/>
<polygon points="566.31,136.51 569.51,139.71 566.31,142.91 563.11,139.71" fill="#000"/>
<polygon points="581.04,92.53 584.24,95.73 581.04,98.93 577.84,95.73" fill="#000"/>
<polygon points="595.77,84.93 598.97,88.13 595.77,91.33 592.57,88.13" fill="#000"/>
<polygon points="615.41,78.63 618.61,81.83 615.41,85.03 612.21,81.83" fill="#000"/>
<polygon points="625.23,109.34 628.43,112.54 625.23,115.74 622.03,112.54" fill="#000"/>
<polygon points="649.78,104.82 652.98,108.02 649.78,111.22 646.58,108.02" fill="#000"/>
<polygon points="494.27,140.9 497.57,136.6 500.87,140.9" fill="#000"/>
<polygon points="509,140.9 512.3,136.6 515.6,140.9" fill="#000"/>
<polygon points="528.64,140.9 531.94,136.6 535.24,140.9" fill="#000"/>
<polygon points="543.37,140.9 546.67,136.6 549.97,140.9" fill="#000"/>
</g>
<line x1="483.5" y1="9" x2="483.5" y2="141" stroke="#8c8c8c" stroke-width="1"/>
<line x1="483" y1="140.5" x2="658.8" y2="140.5" stroke="#8c8c8c" stroke-width="1"/>
<text x="492.66" y="147.6" font-size="5.8" text-anchor="middle" font-weight="bold" textLength="2.77" lengthAdjust="spacingAndGlyphs">8</text>
<text x="502.48" y="147.6" font-size="5.8" text-anchor="middle" font-weight="bold" textLength="5.55" lengthAdjust="spacingAndGlyphs">10</text>
<text x="512.3" y="147.6" font-size="5.8" text-anchor="middle" font-weight="bold" textLength="5.55" lengthAdjust="spacingAndGlyphs">12</text>
<text x="522.12" y="147.6" font-size="5.8" text-anchor="middle" font-weight="bold" textLength="5.55" lengthAdjust="spacingAndGlyphs">14</text>
<text x="531.94" y="147.6" font-size="5.8" text-anchor="middle" font-weight="bold" textLength="5.55" lengthAdjust="spacingAndGlyphs">16</text>
<text x="541.76" y="147.6" font-size="5.8" text-anchor="middle" font-weight="bold" textLength="5.55" lengthAdjust="spacingAndGlyphs">18</text>
<text x="551.58" y="147.6" font-size="5.8" text-anchor="middle" font-weight="bold" textLength="5.55" lengthAdjust="spacingAndGlyphs">20</text>
<text x="561.4" y="147.6" font-size="5.8" text-anchor="middle" font-weight="bold" textLength="5.55" lengthAdjust="spacingAndGlyphs">22</text>
<text x="571.22" y="147.6" font-size="5.8" text-anchor="middle" font-weight="bold" textLength="5.55" lengthAdjust="spacingAndGlyphs">24</text>
<text x="581.04" y="147.6" font-size="5.8" text-anchor="middle" font-weight="bold" textLength="5.55" lengthAdjust="spacingAndGlyphs">26</text>
<text x="590.86" y="147.6" font-size="5.8" text-anchor="middle" font-weight="bold" textLength="5.55" lengthAdjust="spacingAndGlyphs">28</text>
<text x="600.68" y="147.6" font-size="5.8" text-anchor="middle" font-weight="bold" textLength="5.55" lengthAdjust="spacingAndGlyphs">30</text>
<text x="610.5" y="147.6" font-size="5.8" text-anchor="middle" font-weight="bold" textLength="5.55" lengthAdjust="spacingAndGlyphs">32</text>
<text x="620.32" y="147.6" font-size="5.8" text-anchor="middle" font-weight="bold" textLength="5.55" lengthAdjust="spacingAndGlyphs">34</text>
<text x="630.14" y="147.6" font-size="5.8" text-anchor="middle" font-weight="bold" textLength="5.55" lengthAdjust="spacingAndGlyphs">36</text>
<text x="639.96" y="147.6" font-size="5.8" text-anchor="middle" font-weight="bold" textLength="5.55" lengthAdjust="spacingAndGlyphs">38</text>
<text x="649.78" y="147.6" font-size="5.8" text-anchor="middle" font-weight="bold" textLength="5.55" lengthAdjust="spacingAndGlyphs">40</text>
<text x="567.7" y="12.3" font-size="13.2" textLength="26.3" lengthAdjust="spacingAndGlyphs" fill="#000" stroke="#000" stroke-width="0.25">NEA</text>
<text x="460.4" y="74.8" font-size="5.4" text-anchor="middle" font-weight="bold" textLength="10.2" lengthAdjust="spacingAndGlyphs" transform="rotate(-90 460.4 74.8)">EpG</text>
<text x="571.5" y="157.6" font-size="5.4" text-anchor="middle" font-weight="bold" textLength="8.6" lengthAdjust="spacingAndGlyphs">DPI</text>
<text x="660.4" y="60.3" font-size="6.1" font-weight="bold" textLength="23.8" lengthAdjust="spacingAndGlyphs">SheepID</text>
<polygon points="667.8,64.8 671,68 667.8,71.2 664.6,68" fill="#000"/>
<text x="672.5" y="70.1" font-size="6" font-weight="bold" textLength="5.47" lengthAdjust="spacingAndGlyphs">31</text>
<polygon points="667.8,72.4 667.3,73.81 665.8,73.85 666.99,74.76 666.57,76.2 667.8,75.35 669.03,76.2 668.61,74.76 669.8,73.85 668.3,73.81" fill="#bbbbbb" stroke="#555" stroke-width="0.4"/>
<text x="672.5" y="76.6" font-size="6" font-weight="bold" textLength="5.47" lengthAdjust="spacingAndGlyphs">32</text>
<circle cx="667.8" cy="81.1" r="2.1" fill="#000"/>
<text x="672.5" y="83.2" font-size="6" font-weight="bold" textLength="5.47" lengthAdjust="spacingAndGlyphs">35</text>
<circle cx="667.8" cy="87.6" r="1.15" fill="#fff" stroke="#222" stroke-width="0.7"/>
<text x="672.5" y="89.7" font-size="6" font-weight="bold" textLength="5.47" lengthAdjust="spacingAndGlyphs">29</text>
<circle cx="667.8" cy="94.4" r="1.75" fill="#000"/>
<text x="672.5" y="96.5" font-size="6" font-weight="bold" textLength="5.47" lengthAdjust="spacingAndGlyphs">33</text>
<polygon points="665.8,101 669.4,99 669.4,103" fill="#000"/>
<text x="672.5" y="103.1" font-size="6" font-weight="bold" textLength="5.47" lengthAdjust="spacingAndGlyphs">34</text>
<polygon points="667.8,104.5 671,107.7 667.8,110.9 664.6,107.7" fill="#000"/>
<text x="672.5" y="109.8" font-size="6" font-weight="bold" textLength="5.47" lengthAdjust="spacingAndGlyphs">30</text>
<line x1="164.6" y1="293.5" x2="341.6" y2="293.5" stroke="#e2e2e2" stroke-width="1"/>
<line x1="164.6" y1="277.5" x2="341.6" y2="277.5" stroke="#e2e2e2" stroke-width="1"/>
<line x1="164.6" y1="260.5" x2="341.6" y2="260.5" stroke="#e2e2e2" stroke-width="1"/>
<line x1="164.6" y1="244.5" x2="341.6" y2="244.5" stroke="#e2e2e2" stroke-width="1"/>
<line x1="164.6" y1="228.5" x2="341.6" y2="228.5" stroke="#e2e2e2" stroke-width="1"/>
<line x1="164.6" y1="212.5" x2="341.6" y2="212.5" stroke="#e2e2e2" stroke-width="1"/>
<line x1="164.6" y1="196.5" x2="341.6" y2="196.5" stroke="#e2e2e2" stroke-width="1"/>
<line x1="164.6" y1="180.5" x2="341.6" y2="180.5" stroke="#e2e2e2" stroke-width="1"/>
<text x="162.5" y="312.1" font-size="6" text-anchor="end" font-weight="bold" textLength="2.98" lengthAdjust="spacingAndGlyphs">0</text>
<text x="162.5" y="295.99" font-size="6" text-anchor="end" font-weight="bold" textLength="13.42" lengthAdjust="spacingAndGlyphs">2 000</text>
<text x="162.5" y="279.88" font-size="6" text-anchor="end" font-weight="bold" textLength="13.42" lengthAdjust="spacingAndGlyphs">4 000</text>
<text x="162.5" y="263.77" font-size="6" text-anchor="end" font-weight="bold" textLength="13.42" lengthAdjust="spacingAndGlyphs">6 000</text>
<text x="162.5" y="247.66" font-size="6" text-anchor="end" font-weight="bold" textLength="13.42" lengthAdjust="spacingAndGlyphs">8 000</text>
<text x="162.5" y="231.55" font-size="6" text-anchor="end" font-weight="bold" textLength="16.4" lengthAdjust="spacingAndGlyphs">10 000</text>
<text x="162.5" y="215.44" font-size="6" text-anchor="end" font-weight="bold" textLength="16.4" lengthAdjust="spacingAndGlyphs">12 000</text>
<text x="162.5" y="199.33" font-size="6" text-anchor="end" font-weight="bold" textLength="16.4" lengthAdjust="spacingAndGlyphs">14 000</text>
<text x="162.5" y="183.22" font-size="6" text-anchor="end" font-weight="bold" textLength="16.4" lengthAdjust="spacingAndGlyphs">16 000</text>
<clipPath id="bvc"><rect x="164.6" y="161" width="183" height="148.9"/></clipPath>
<g clip-path="url(#bvc)">
<polyline points="195.5,309.5 204.7,309.5 227.7,309.5 236.9,309.5 250.7,309.5 269.1,306.12 287.5,305.47 296.7,307.08 319.7,307.08 333.5,307.08" fill="none" stroke="#1a1a1a" stroke-width="0.85"/>
<polyline points="195.5,309.5 204.7,309.5 227.7,309.5 236.9,309.5 250.7,309.5 269.1,307.89 287.5,307.08 296.7,307.89 319.7,307.49 333.5,307.49" fill="none" stroke="#1a1a1a" stroke-width="0.85"/>
<polyline points="195.5,309.5 204.7,309.5 227.7,309.5 236.9,309.5 250.7,309.5 269.1,308.69 287.5,307.89 296.7,308.29 319.7,308.29 333.5,308.29" fill="none" stroke="#1a1a1a" stroke-width="0.85"/>
<polyline points="195.5,309.5 204.7,309.5 227.7,309.5 236.9,309.5 250.7,309.5 269.1,309.1 287.5,308.69 296.7,308.69 319.7,308.69 333.5,308.69" fill="none" stroke="#1a1a1a" stroke-width="0.85"/>
<polyline points="195.5,309.5 204.7,309.5 227.7,309.5 236.9,309.5 250.7,309.5 269.1,308.29 287.5,306.99 296.7,307.73 319.7,308.05 333.5,308.05" fill="none" stroke="#1a1a1a" stroke-width="0.85"/>
<polyline points="195.5,309.5 204.7,309.5 227.7,309.5 236.9,309.5 250.7,309.5 269.1,306.99 287.5,299.56 296.7,302.37 319.7,303.58 333.5,304.38" fill="none" stroke="#1a1a1a" stroke-width="0.85"/>
<polyline points="195.5,309.5 204.7,309.5 227.7,309.5 236.9,309.5 250.7,309.5 269.1,309.5 287.5,309.5 296.7,309.5 319.7,309.5 333.5,309.5" fill="none" stroke="#1a1a1a" stroke-width="0.85"/>
<polygon points="195.5,307.4 195,308.81 193.5,308.85 194.69,309.76 194.27,311.2 195.5,310.35 196.73,311.2 196.31,309.76 197.5,308.85 196,308.81" fill="#bbbbbb" stroke="#555" stroke-width="0.4"/>
<polygon points="204.7,307.4 204.2,308.81 202.7,308.85 203.89,309.76 203.47,311.2 204.7,310.35 205.93,311.2 205.51,309.76 206.7,308.85 205.2,308.81" fill="#bbbbbb" stroke="#555" stroke-width="0.4"/>
<polygon points="227.7,307.4 227.2,308.81 225.7,308.85 226.89,309.76 226.47,311.2 227.7,310.35 228.93,311.2 228.51,309.76 229.7,308.85 228.2,308.81" fill="#bbbbbb" stroke="#555" stroke-width="0.4"/>
<polygon points="236.9,307.4 236.4,308.81 234.9,308.85 236.09,309.76 235.67,311.2 236.9,310.35 238.13,311.2 237.71,309.76 238.9,308.85 237.4,308.81" fill="#bbbbbb" stroke="#555" stroke-width="0.4"/>
<polygon points="250.7,307.4 250.2,308.81 248.7,308.85 249.89,309.76 249.47,311.2 250.7,310.35 251.93,311.2 251.51,309.76 252.7,308.85 251.2,308.81" fill="#bbbbbb" stroke="#555" stroke-width="0.4"/>
<polygon points="269.1,304.02 268.6,305.43 267.1,305.47 268.29,306.38 267.87,307.82 269.1,306.97 270.33,307.82 269.91,306.38 271.1,305.47 269.6,305.43" fill="#bbbbbb" stroke="#555" stroke-width="0.4"/>
<polygon points="287.5,303.37 287,304.78 285.5,304.82 286.69,305.74 286.27,307.17 287.5,306.32 288.73,307.17 288.31,305.74 289.5,304.82 288,304.78" fill="#bbbbbb" stroke="#555" stroke-width="0.4"/>
<polygon points="296.7,304.98 296.2,306.4 294.7,306.43 295.89,307.35 295.47,308.78 296.7,307.93 297.93,308.78 297.51,307.35 298.7,306.43 297.2,306.4" fill="#bbbbbb" stroke="#555" stroke-width="0.4"/>
<polygon points="319.7,304.98 319.2,306.4 317.7,306.43 318.89,307.35 318.47,308.78 319.7,307.93 320.93,308.78 320.51,307.35 321.7,306.43 320.2,306.4" fill="#bbbbbb" stroke="#555" stroke-width="0.4"/>
<polygon points="333.5,304.98 333,306.4 331.5,306.43 332.69,307.35 332.27,308.78 333.5,307.93 334.73,308.78 334.31,307.35 335.5,306.43 334,306.4" fill="#bbbbbb" stroke="#555" stroke-width="0.4"/>
<circle cx="195.5" cy="309.5" r="1.45" fill="#000"/>
<circle cx="204.7" cy="309.5" r="1.45" fill="#000"/>
<circle cx="227.7" cy="309.5" r="1.45" fill="#000"/>
<circle cx="236.9" cy="309.5" r="1.45" fill="#000"/>
<circle cx="250.7" cy="309.5" r="1.45" fill="#000"/>
<circle cx="269.1" cy="307.89" r="1.45" fill="#000"/>
<circle cx="287.5" cy="307.08" r="1.45" fill="#000"/>
<circle cx="296.7" cy="307.89" r="1.45" fill="#000"/>
<circle cx="319.7" cy="307.49" r="1.45" fill="#000"/>
<circle cx="333.5" cy="307.49" r="1.45" fill="#000"/>
<polygon points="193.5,309.5 197.1,307.5 197.1,311.5" fill="#000"/>
<polygon points="202.7,309.5 206.3,307.5 206.3,311.5" fill="#000"/>
<polygon points="225.7,309.5 229.3,307.5 229.3,311.5" fill="#000"/>
<polygon points="234.9,309.5 238.5,307.5 238.5,311.5" fill="#000"/>
<polygon points="248.7,309.5 252.3,307.5 252.3,311.5" fill="#000"/>
<polygon points="267.1,308.69 270.7,306.69 270.7,310.69" fill="#000"/>
<polygon points="285.5,307.89 289.1,305.89 289.1,309.89" fill="#000"/>
<polygon points="294.7,308.29 298.3,306.29 298.3,310.29" fill="#000"/>
<polygon points="317.7,308.29 321.3,306.29 321.3,310.29" fill="#000"/>
<polygon points="331.5,308.29 335.1,306.29 335.1,310.29" fill="#000"/>
<polygon points="197.5,309.5 193.9,307.5 193.9,311.5" fill="#000"/>
<polygon points="206.7,309.5 203.1,307.5 203.1,311.5" fill="#000"/>
<polygon points="229.7,309.5 226.1,307.5 226.1,311.5" fill="#000"/>
<polygon points="238.9,309.5 235.3,307.5 235.3,311.5" fill="#000"/>
<polygon points="252.7,309.5 249.1,307.5 249.1,311.5" fill="#000"/>
<polygon points="271.1,309.1 267.5,307.1 267.5,311.1" fill="#000"/>
<polygon points="289.5,308.69 285.9,306.69 285.9,310.69" fill="#000"/>
<polygon points="298.7,308.69 295.1,306.69 295.1,310.69" fill="#000"/>
<polygon points="321.7,308.69 318.1,306.69 318.1,310.69" fill="#000"/>
<polygon points="335.5,308.69 331.9,306.69 331.9,310.69" fill="#000"/>
<circle cx="195.5" cy="309.5" r="2.1" fill="#000"/>
<circle cx="204.7" cy="309.5" r="2.1" fill="#000"/>
<circle cx="227.7" cy="309.5" r="2.1" fill="#000"/>
<circle cx="236.9" cy="309.5" r="2.1" fill="#000"/>
<circle cx="250.7" cy="309.5" r="2.1" fill="#000"/>
<circle cx="269.1" cy="308.29" r="2.1" fill="#000"/>
<circle cx="287.5" cy="306.99" r="2.1" fill="#000"/>
<circle cx="296.7" cy="307.73" r="2.1" fill="#000"/>
<circle cx="319.7" cy="308.05" r="2.1" fill="#000"/>
<circle cx="333.5" cy="308.05" r="2.1" fill="#000"/>
<circle cx="195.5" cy="309.5" r="1.75" fill="#000"/>
<circle cx="204.7" cy="309.5" r="1.75" fill="#000"/>
<circle cx="227.7" cy="309.5" r="1.75" fill="#000"/>
<circle cx="236.9" cy="309.5" r="1.75" fill="#000"/>
<circle cx="250.7" cy="309.5" r="1.75" fill="#000"/>
<circle cx="269.1" cy="306.99" r="1.75" fill="#000"/>
<circle cx="287.5" cy="299.56" r="1.75" fill="#000"/>
<circle cx="296.7" cy="302.37" r="1.75" fill="#000"/>
<circle cx="319.7" cy="303.58" r="1.75" fill="#000"/>
<circle cx="333.5" cy="304.38" r="1.75" fill="#000"/>
<polygon points="195.5,306.3 198.7,309.5 195.5,312.7 192.3,309.5" fill="#000"/>
<polygon points="204.7,306.3 207.9,309.5 204.7,312.7 201.5,309.5" fill="#000"/>
<polygon points="227.7,306.3 230.9,309.5 227.7,312.7 224.5,309.5" fill="#000"/>
<polygon points="236.9,306.3 240.1,309.5 236.9,312.7 233.7,309.5" fill="#000"/>
<polygon points="250.7,306.3 253.9,309.5 250.7,312.7 247.5,309.5" fill="#000"/>
<polygon points="269.1,306.3 272.3,309.5 269.1,312.7 265.9,309.5" fill="#000"/>
<polygon points="287.5,306.3 290.7,309.5 287.5,312.7 284.3,309.5" fill="#000"/>
<polygon points="296.7,306.3 299.9,309.5 296.7,312.7 293.5,309.5" fill="#000"/>
<polygon points="319.7,306.3 322.9,309.5 319.7,312.7 316.5,309.5" fill="#000"/>
<polygon points="333.5,306.3 336.7,309.5 333.5,312.7 330.3,309.5" fill="#000"/>
<polygon points="192.2,309.9 195.5,305.6 198.8,309.9" fill="#000"/>
<polygon points="201.4,309.9 204.7,305.6 208,309.9" fill="#000"/>
<polygon points="224.4,309.9 227.7,305.6 231,309.9" fill="#000"/>
<polygon points="233.6,309.9 236.9,305.6 240.2,309.9" fill="#000"/>
<polygon points="247.4,309.9 250.7,305.6 254,309.9" fill="#000"/>
<polygon points="265.8,309.9 269.1,305.6 272.4,309.9" fill="#000"/>
</g>
<line x1="164.6" y1="166" x2="164.6" y2="310" stroke="#8c8c8c" stroke-width="1"/>
<line x1="164.1" y1="309.5" x2="342" y2="309.5" stroke="#8c8c8c" stroke-width="1"/>
<text x="172.5" y="316.1" font-size="5.8" text-anchor="middle" font-weight="bold" textLength="2.77" lengthAdjust="spacingAndGlyphs">2</text>
<text x="181.7" y="316.1" font-size="5.8" text-anchor="middle" font-weight="bold" textLength="2.77" lengthAdjust="spacingAndGlyphs">4</text>
<text x="190.9" y="316.1" font-size="5.8" text-anchor="middle" font-weight="bold" textLength="2.77" lengthAdjust="spacingAndGlyphs">6</text>
<text x="200.1" y="316.1" font-size="5.8" text-anchor="middle" font-weight="bold" textLength="2.77" lengthAdjust="spacingAndGlyphs">8</text>
<text x="209.3" y="316.1" font-size="5.8" text-anchor="middle" font-weight="bold" textLength="5.55" lengthAdjust="spacingAndGlyphs">10</text>
<text x="218.5" y="316.1" font-size="5.8" text-anchor="middle" font-weight="bold" textLength="5.55" lengthAdjust="spacingAndGlyphs">12</text>
<text x="227.7" y="316.1" font-size="5.8" text-anchor="middle" font-weight="bold" textLength="5.55" lengthAdjust="spacingAndGlyphs">14</text>
<text x="236.9" y="316.1" font-size="5.8" text-anchor="middle" font-weight="bold" textLength="5.55" lengthAdjust="spacingAndGlyphs">16</text>
<text x="246.1" y="316.1" font-size="5.8" text-anchor="middle" font-weight="bold" textLength="5.55" lengthAdjust="spacingAndGlyphs">18</text>
<text x="255.3" y="316.1" font-size="5.8" text-anchor="middle" font-weight="bold" textLength="5.55" lengthAdjust="spacingAndGlyphs">20</text>
<text x="264.5" y="316.1" font-size="5.8" text-anchor="middle" font-weight="bold" textLength="5.55" lengthAdjust="spacingAndGlyphs">22</text>
<text x="273.7" y="316.1" font-size="5.8" text-anchor="middle" font-weight="bold" textLength="5.55" lengthAdjust="spacingAndGlyphs">24</text>
<text x="282.9" y="316.1" font-size="5.8" text-anchor="middle" font-weight="bold" textLength="5.55" lengthAdjust="spacingAndGlyphs">26</text>
<text x="292.1" y="316.1" font-size="5.8" text-anchor="middle" font-weight="bold" textLength="5.55" lengthAdjust="spacingAndGlyphs">28</text>
<text x="301.3" y="316.1" font-size="5.8" text-anchor="middle" font-weight="bold" textLength="5.55" lengthAdjust="spacingAndGlyphs">30</text>
<text x="310.5" y="316.1" font-size="5.8" text-anchor="middle" font-weight="bold" textLength="5.55" lengthAdjust="spacingAndGlyphs">32</text>
<text x="319.7" y="316.1" font-size="5.8" text-anchor="middle" font-weight="bold" textLength="5.55" lengthAdjust="spacingAndGlyphs">34</text>
<text x="328.9" y="316.1" font-size="5.8" text-anchor="middle" font-weight="bold" textLength="5.55" lengthAdjust="spacingAndGlyphs">36</text>
<text x="338.1" y="316.1" font-size="5.8" text-anchor="middle" font-weight="bold" textLength="5.55" lengthAdjust="spacingAndGlyphs">38</text>
<text x="225.6" y="177.1" font-size="13.2" textLength="34.6" lengthAdjust="spacingAndGlyphs" fill="#000" stroke="#000" stroke-width="0.25">BVAX</text>
<text x="141" y="238.2" font-size="5.4" text-anchor="middle" font-weight="bold" textLength="10.2" lengthAdjust="spacingAndGlyphs" transform="rotate(-90 141 238.2)">EpG</text>
<text x="252.2" y="325.6" font-size="5.4" text-anchor="middle" font-weight="bold" textLength="8.6" lengthAdjust="spacingAndGlyphs">DPI</text>
<text x="341.9" y="207.6" font-size="6.1" font-weight="bold" textLength="23.8" lengthAdjust="spacingAndGlyphs">SheepID</text>
<circle cx="351.5" cy="222.2" r="1.75" fill="#000"/>
<text x="356" y="224.3" font-size="6" font-weight="bold" textLength="5.47" lengthAdjust="spacingAndGlyphs">17</text>
<polygon points="351.5,226 351,227.41 349.5,227.45 350.69,228.36 350.27,229.8 351.5,228.95 352.73,229.8 352.31,228.36 353.5,227.45 352,227.41" fill="#bbbbbb" stroke="#555" stroke-width="0.4"/>
<text x="356" y="230.2" font-size="6" font-weight="bold" textLength="5.47" lengthAdjust="spacingAndGlyphs">20</text>
<polygon points="351.5,230.8 354.7,234 351.5,237.2 348.3,234" fill="#000"/>
<text x="356" y="236.1" font-size="6" font-weight="bold" textLength="5.47" lengthAdjust="spacingAndGlyphs">16</text>
<circle cx="351.5" cy="240" r="1.45" fill="#000"/>
<text x="356" y="242.1" font-size="6" font-weight="bold" textLength="5.47" lengthAdjust="spacingAndGlyphs">19</text>
<polygon points="349.5,246.1 353.1,244.1 353.1,248.1" fill="#000"/>
<text x="356" y="248.2" font-size="6" font-weight="bold" textLength="5.47" lengthAdjust="spacingAndGlyphs">18</text>
<circle cx="351.5" cy="251.9" r="2.1" fill="#000"/>
<text x="356" y="254" font-size="6" font-weight="bold" textLength="5.47" lengthAdjust="spacingAndGlyphs">15</text>
<polygon points="353.5,257.8 349.9,255.8 349.9,259.8" fill="#000"/>
<text x="356" y="259.9" font-size="6" font-weight="bold" textLength="5.47" lengthAdjust="spacingAndGlyphs">21</text>
<line x1="397" y1="286.92" x2="644.2" y2="286.92" stroke="#e2e2e2" stroke-width="1"/>
<line x1="397" y1="265.34" x2="644.2" y2="265.34" stroke="#e2e2e2" stroke-width="1"/>
<line x1="397" y1="243.76" x2="644.2" y2="243.76" stroke="#e2e2e2" stroke-width="1"/>
<line x1="397" y1="222.18" x2="644.2" y2="222.18" stroke="#e2e2e2" stroke-width="1"/>
<line x1="397" y1="200.6" x2="644.2" y2="200.6" stroke="#e2e2e2" stroke-width="1"/>
<line x1="397" y1="179.02" x2="644.2" y2="179.02" stroke="#e2e2e2" stroke-width="1"/>
<rect x="554" y="186" width="28" height="62" fill="#fff"/>
<text x="395.2" y="311.1" font-size="6" text-anchor="end" font-weight="bold" textLength="2.98" lengthAdjust="spacingAndGlyphs">0</text>
<text x="395.2" y="289.52" font-size="6" text-anchor="end" font-weight="bold" textLength="16.4" lengthAdjust="spacingAndGlyphs">10 000</text>
<text x="395.2" y="267.94" font-size="6" text-anchor="end" font-weight="bold" textLength="16.4" lengthAdjust="spacingAndGlyphs">20 000</text>
<text x="395.2" y="246.36" font-size="6" text-anchor="end" font-weight="bold" textLength="16.4" lengthAdjust="spacingAndGlyphs">30 000</text>
<text x="395.2" y="224.78" font-size="6" text-anchor="end" font-weight="bold" textLength="16.4" lengthAdjust="spacingAndGlyphs">40 000</text>
<text x="395.2" y="203.2" font-size="6" text-anchor="end" font-weight="bold" textLength="16.4" lengthAdjust="spacingAndGlyphs">50 000</text>
<text x="395.2" y="181.62" font-size="6" text-anchor="end" font-weight="bold" textLength="16.4" lengthAdjust="spacingAndGlyphs">60 000</text>
<rect x="412.3" y="230.3" width="49.9" height="78.2" fill="#ff32ac" stroke="#444" stroke-width="0.6"/>
<rect x="467.9" y="305.5" width="50.1" height="3" fill="#4259ae" stroke="#444" stroke-width="0.6"/>
<rect x="523.1" y="288.1" width="50" height="20.4" fill="#74dc3e" stroke="#444" stroke-width="0.6"/>
<rect x="579" y="267.6" width="50" height="40.9" fill="#dc2139" stroke="#444" stroke-width="0.6"/>
<path d="M437 195.7V264.4 M430.8 195.7H443.2 M430.8 264.4H443.2" stroke="#1a1a1a" stroke-width="1.25" fill="none"/>
<path d="M492.8 303.4V307 M486.6 303.4H499 M486.6 307H499" stroke="#1a1a1a" stroke-width="1.25" fill="none"/>
<path d="M548.4 275.1V301.4 M542.2 275.1H554.6 M542.2 301.4H554.6" stroke="#1a1a1a" stroke-width="1.25" fill="none"/>
<path d="M604.2 248.4V286 M598 248.4H610.4 M598 286H610.4" stroke="#1a1a1a" stroke-width="1.25" fill="none"/>
<line x1="397" y1="165.3" x2="397" y2="309" stroke="#8c8c8c" stroke-width="1"/>
<line x1="396.5" y1="308.5" x2="644.2" y2="308.5" stroke="#8c8c8c" stroke-width="1"/>
<text x="437" y="316" font-size="5.8" text-anchor="middle" font-weight="bold" textLength="11.64" lengthAdjust="spacingAndGlyphs">POS</text>
<text x="492.8" y="316" font-size="5.8" text-anchor="middle" font-weight="bold" textLength="14.9" lengthAdjust="spacingAndGlyphs">BVAX</text>
<text x="548.4" y="316" font-size="5.8" text-anchor="middle" font-weight="bold" textLength="11.94" lengthAdjust="spacingAndGlyphs">GEA</text>
<text x="604.2" y="316" font-size="5.8" text-anchor="middle" font-weight="bold" textLength="11.63" lengthAdjust="spacingAndGlyphs">NEA</text>
<text x="520.9" y="326.5" font-size="6.1" text-anchor="middle" font-weight="bold" textLength="22.5" lengthAdjust="spacingAndGlyphs">Group ID</text>
<text x="373.6" y="236.4" font-size="5.4" text-anchor="middle" font-weight="bold" textLength="59.5" lengthAdjust="spacingAndGlyphs" transform="rotate(-90 373.6 236.4)">Cumulative FEC (mean)</text>
<text x="473.4" y="177.6" font-size="13.4" textLength="68.5" lengthAdjust="spacingAndGlyphs" fill="#000" stroke="#000" stroke-width="0.25">Cumulative</text>
<text x="545.6" y="177.6" font-size="13.4" textLength="25.2" lengthAdjust="spacingAndGlyphs" fill="#000" stroke="#000" stroke-width="0.25">FEC</text>
<path d="M435.9 193 V189.3 Q435.9 187.3 437.9 187.3 H491.5 Q493.5 187.3 493.5 189.3 V193 M463 187.3 Q464.6 187.3 464.6 185.3 V181.6 M466.2 187.3 Q464.6 187.3 464.6 185.3" stroke="#2a2a2a" stroke-width="1.05" fill="none"/>
<path d="M488.6 245.2 V238.9 Q488.6 236.9 490.6 236.9 H602 Q604 236.9 604 238.9 V245.2 M544.8 236.9 Q546.4 236.9 546.4 234.9 V228.8 M548 236.9 Q546.4 236.9 546.4 234.9" stroke="#2a2a2a" stroke-width="1.05" fill="none"/>
<polygon points="464.6,170.3 463.98,172.05 462.13,172.1 463.6,173.22 463.07,175 464.6,173.95 466.13,175 465.6,173.22 467.07,172.1 465.22,172.05" fill="#333" stroke="#222" stroke-width="0.3"/>
<polygon points="464.6,175.5 463.98,177.25 462.13,177.3 463.6,178.42 463.07,180.2 464.6,179.15 466.13,180.2 465.6,178.42 467.07,177.3 465.22,177.25" fill="#333" stroke="#222" stroke-width="0.3"/>
<polygon points="546.4,217.3 545.78,219.05 543.93,219.1 545.4,220.22 544.87,222 546.4,220.95 547.93,222 547.4,220.22 548.87,219.1 547.02,219.05" fill="#333" stroke="#222" stroke-width="0.3"/>
<polygon points="546.4,222.9 545.78,224.65 543.93,224.7 545.4,225.82 544.87,227.6 546.4,226.55 547.93,227.6 547.4,225.82 548.87,224.7 547.02,224.65" fill="#333" stroke="#222" stroke-width="0.3"/>
</svg>
</body></html>
